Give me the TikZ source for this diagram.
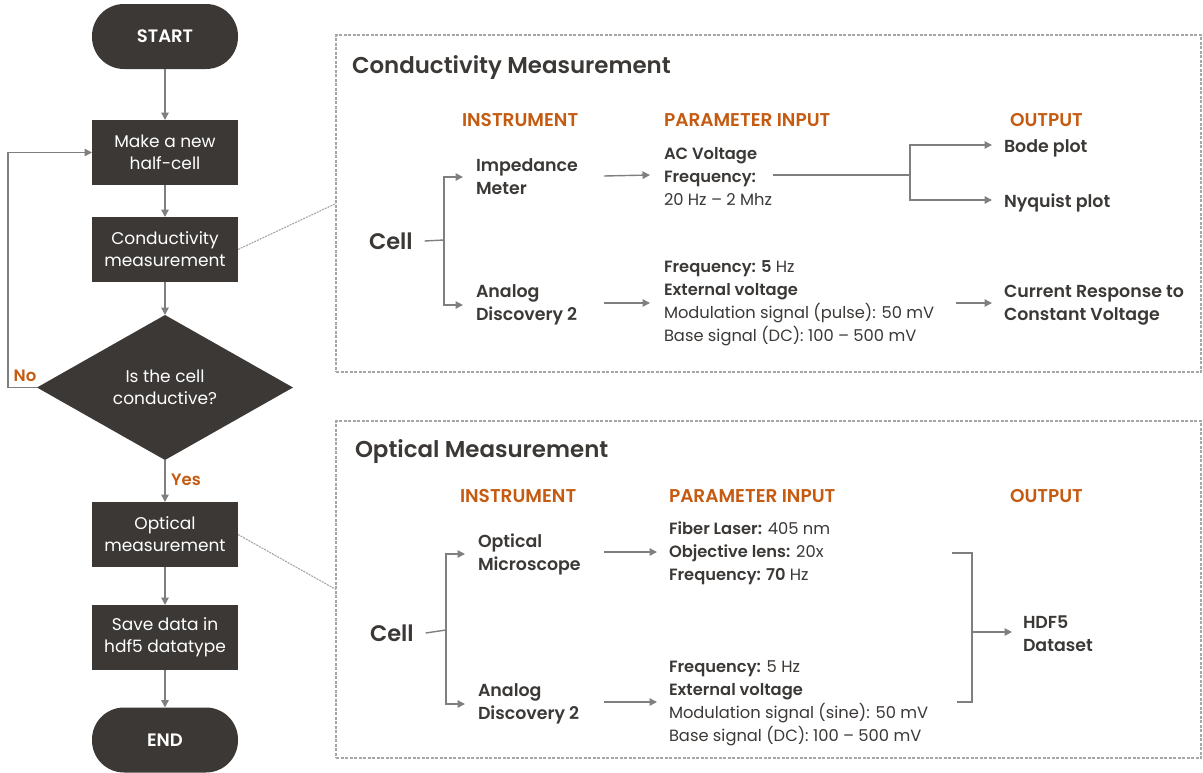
\documentclass[tikz,border=0pt]{standalone}
\usepackage{fontspec}
\setmainfont{Poppins}[BoldFont = Poppins SemiBold]
\usetikzlibrary{arrows.meta,shapes.geometric}
\definecolor{ink}{HTML}{3B3836}
\definecolor{rust}{HTML}{C55A11}
\definecolor{wire}{HTML}{7F7F7F}
\definecolor{frame}{HTML}{A6A6A6}

\begin{document}
\begin{tikzpicture}[x=1pt,y=-1pt,
  every node/.style={inner sep=0pt, outer sep=0pt},
  proc/.style={fill=ink, text=white, minimum width=146pt, minimum height=65pt,
    align=center, font=\fontsize{17}{22}\selectfont},
  term/.style={proc, rounded corners=32pt, font=\fontsize{18}{22}\selectfont\bfseries},
  decide/.style={diamond, fill=ink, text=white, minimum width=256pt, minimum height=145pt,
    align=center, font=\fontsize{17}{22}\selectfont},
  line/.style={draw=wire, line width=1.4pt},
  flow/.style={line, -{Triangle[length=7.5pt,width=7.5pt]}},
  panel/.style={draw=frame, line width=1.1pt, dash pattern=on 3pt off 1.5pt,
    minimum width=865pt, minimum height=337pt, anchor=north west},
  link/.style={draw=frame, line width=1.1pt, dash pattern=on 2pt off 1pt},
  tag/.style={text=rust, font=\fontsize{16.5}{20}\selectfont\bfseries},
  head/.style={text=rust, anchor=west, font=\fontsize{18.5}{22}\selectfont\bfseries},
  ttl/.style={text=ink, anchor=west, font=\fontsize{22.9}{26}\selectfont\bfseries},
  cellt/.style={text=ink, anchor=west, font=\fontsize{22.5}{26}\selectfont\bfseries},
  lbl/.style={text=ink, anchor=west, align=left, font=\fontsize{17.4}{23}\selectfont\bfseries},
  par/.style={text=ink, anchor=west, align=left, font=\fontsize{16.3}{23}\selectfont},
]
\useasboundingbox (0,0) rectangle (1203,772);

% ---------------- main flowchart ----------------
\node[term] (start) at (165,36.5) {START};
\node[proc] (make) at (165,152.5) {Make a new\\half-cell};
\node[proc] (cond) at (165,249.5) {Conductivity\\measurement};
\node[decide] (dec) at (165,387.5) {Is the cell\\conductive?};
\node[proc] (opt) at (165,534.5) {Optical\\measurement};
\node[proc] (save) at (165,637.5) {Save data in\\hdf5 datatype};
\node[term] (end) at (165,740) {END};

\draw[flow] (start) -- (make);
\draw[flow] (make) -- (cond);
\draw[flow] (cond) -- (dec);
\draw[flow] (dec) -- (opt);
\draw[flow] (opt) -- (save);
\draw[flow] (save) -- (end);
\draw[flow] (dec.west) -- ++(-29,0) |- (make.west);
\node[tag] (no) at (25,376) {No};
\node[tag] (yes) at (186,480) {Yes};

% ---------------- detail panels ----------------
\node[panel] (pa) at (336,35) {};
\node[panel] (pb) at (336,421) {};
\draw[link] (cond.east) -- (pa.west);
\draw[link] (opt.east) -- (pb.west);

% Conductivity panel
\node[ttl] (ta) at (352,68) {Conductivity Measurement};
\node[head] (ha1) at (462,120) {INSTRUMENT};
\node[head] (ha2) at (664,120) {PARAMETER INPUT};
\node[head] (ha3) at (1010,120) {OUTPUT};
\node[cellt] (cella) at (369,241) {Cell};
\node[lbl] (impa) at (476,177) {Impedance\\Meter};
\node[lbl] (ada) at (476,305) {Analog\\Discovery 2};
\node[par] (pa1) at (664,176) {\textbf{AC Voltage}\\\textbf{Frequency:}\\20 Hz – 2 Mhz};
\node[par] (pa2) at (664,303) {\textbf{Frequency: 5} Hz\\\textbf{External voltage}\\Modulation signal (pulse): 50 mV\\Base signal (DC): 100 – 500 mV};
\node[lbl] (bode) at (1004,148) {Bode plot};
\node[lbl] (nyq) at (1004,203) {Nyquist plot};
\node[lbl] (cur) at (1004,305) {Current Response to\\Constant Voltage};

\coordinate (ja) at (444,240);
\draw[line] ([xshift=12]cella.east) -- (ja);
\draw[flow] (ja) |- ([xshift=-13]impa.west);
\draw[flow] (ja) |- ([xshift=-13]ada.west);
\coordinate (ia) at (604,176);
\coordinate (ib) at (650,175);
\draw[flow] (ia) -- (ib);
\coordinate (ic) at (604,303);
\coordinate (id) at (650,303);
\draw[flow] (ic) -- (id);
\coordinate (fa) at (773,175);
\coordinate (sa) at (910,175);
\draw[line] (fa) -- (sa);
\coordinate (oa) at (992,145);
\coordinate (ob) at (992,200);
\draw[flow] (sa) |- (oa);
\draw[flow] (sa) |- (ob);
\coordinate (ca) at (956,303);
\coordinate (cb) at (992,303);
\draw[flow] (ca) -- (cb);

% Optical panel
\node[ttl] (tb) at (355,452) {Optical Measurement};
\node[head] (hb1) at (460,496) {INSTRUMENT};
\node[head] (hb2) at (669,496) {PARAMETER INPUT};
\node[head] (hb3) at (1010,496) {OUTPUT};
\node[cellt] (cellb) at (370,633) {Cell};
\node[lbl] (optb) at (478,554) {Optical\\Microscope};
\node[lbl] (adb) at (478,704) {Analog\\Discovery 2};
\node[par] (pb1) at (669,553) {\textbf{Fiber Laser:} 405 nm\\\textbf{Objective lens:} 20x\\\textbf{Frequency: 70} Hz};
\node[par] (pb2) at (669,703) {\textbf{Frequency:} 5 Hz\\\textbf{External voltage}\\Modulation signal (sine): 50 mV\\Base signal (DC): 100 – 500 mV};
\node[lbl] (hdf) at (1023,634) {HDF5\\Dataset};

\coordinate (jb) at (446,630);
\draw[line] ([xshift=12]cellb.east) -- (jb);
\draw[flow] (jb) |- ([xshift=-13]optb.west);
\draw[flow] (jb) |- ([xshift=-13]adb.west);
\coordinate (ka) at (604,552);
\coordinate (kb) at (657,552);
\draw[flow] (ka) -- (kb);
\coordinate (kc) at (604,702);
\coordinate (kd) at (657,702);
\draw[flow] (kc) -- (kd);
\coordinate (ba) at (952,553);
\coordinate (bb) at (972,553);
\coordinate (bc) at (972,702);
\coordinate (bd) at (957,702);
\draw[line] (ba) -- (bb) -- (bc) -- (bd);
\coordinate (bm) at (972,632);
\coordinate (be) at (1012,632);
\draw[flow] (bm) -- (be);
\end{tikzpicture}
\end{document}
